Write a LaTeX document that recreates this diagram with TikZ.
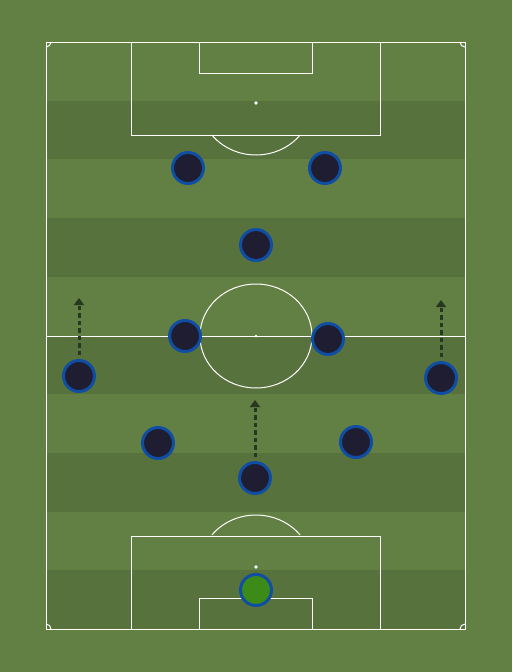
\documentclass[tikz,border=0pt]{standalone}
\usetikzlibrary{arrows.meta}
\definecolor{grassL}{RGB}{98,128,67}
\definecolor{grassD}{RGB}{88,114,61}
\definecolor{shirt}{RGB}{30,29,50}
\definecolor{rim}{RGB}{16,78,164}
\definecolor{keeper}{RGB}{60,139,24}
\definecolor{runcol}{RGB}{40,55,33}
\tikzset{
	chalk/.style={draw=white, line width=1pt},
	player/.style={circle, draw=rim, line width=3pt, fill=shirt, minimum size=31pt, inner sep=0pt},
	run/.style={draw=runcol, line width=3pt, dash pattern=on 4.5pt off 3pt, shorten <=4pt, -{Triangle[length=7pt,width=10pt]}}
}
\begin{document}
\begin{tikzpicture}[x=1pt, y=-1pt]
	\fill[grassL] (0,0) rectangle (512,672);
	\useasboundingbox (0,0) rectangle (512,672);

	% stripes
	\foreach \k in {0,...,4}{
	  \fill[grassD] (46,{42+58.7*(2*\k+1)}) rectangle (465,{42+58.7*(2*\k+2)});
	}

	\draw[chalk] (46,42) rectangle (465,629);
	\draw[chalk] (46,336) -- (465,336);
	\draw[chalk] (256,336) ellipse [x radius=56pt, y radius=52pt];
	\fill[white] (256,336) circle [radius=1.5pt];

	\draw[chalk] (131,42) rectangle (380,135);
	\draw[chalk] (199,42) rectangle (312,73);
	\fill[white] (256,103) circle [radius=1.8pt];
	\draw[chalk] (256,103) ++(-142:56pt and 52pt) arc [start angle=-142, end angle=-38, x radius=56pt, y radius=52pt];

	\draw[chalk] (131,629) rectangle (380,536);
	\draw[chalk] (199,629) rectangle (312,598);
	\fill[white] (256,567) circle [radius=1.8pt];
	\draw[chalk] (256,567) ++(142:56pt and 52pt) arc [start angle=142, end angle=38, x radius=56pt, y radius=52pt];

	\draw[chalk] (51,42) arc [start angle=0, end angle=-90, radius=5pt];
	\draw[chalk] (460,42) arc [start angle=180, end angle=270, radius=5pt];
	\draw[chalk] (51,629) arc [start angle=0, end angle=90, radius=5pt];
	\draw[chalk] (460,629) arc [start angle=180, end angle=90, radius=5pt];

	\coordinate (wbLT) at (79,298);
	\coordinate (wbRT) at (441,300);
	\coordinate (cbT) at (255,400);

	\node[player] (fwL) at (188,168) {};
	\node[player] (fwR) at (325,168) {};
	\node[player] (am) at (256,245) {};
	\node[player] (cmL) at (185,336) {};
	\node[player] (cmR) at (328,339) {};
	\node[player] (wbL) at (79,376) {};
	\node[player] (wbR) at (441,378) {};
	\node[player] (cbL) at (158,443) {};
	\node[player] (cbR) at (356,442) {};
	\node[player] (cb) at (255,478) {};
	\node[player, fill=keeper] (gk) at (256,590) {};

	\draw[run] (wbL) -- (wbLT);
	\draw[run] (wbR) -- (wbRT);
	\draw[run] (cb) -- (cbT);
\end{tikzpicture}
\end{document}
